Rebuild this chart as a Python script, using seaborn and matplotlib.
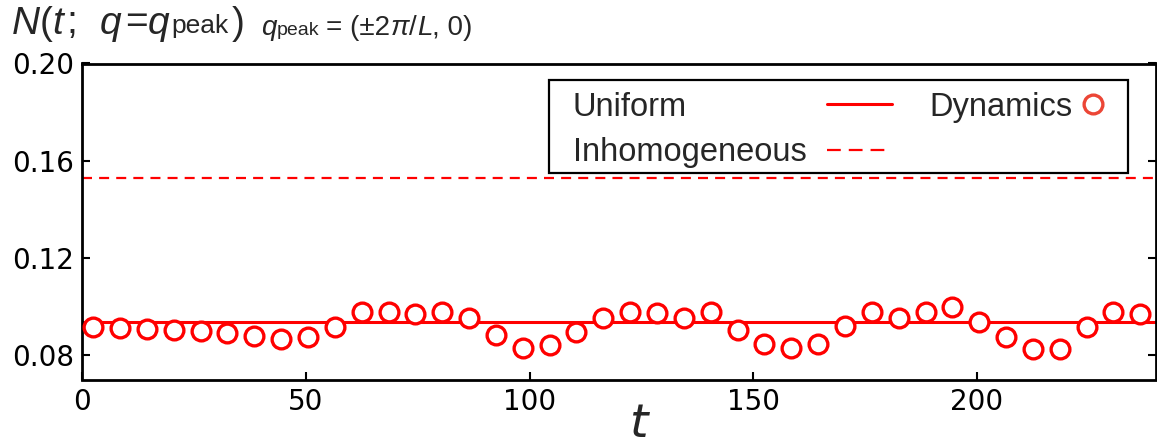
import numpy as np
import pandas as pd
import matplotlib
matplotlib.use("Agg")
import matplotlib.pyplot as plt
import seaborn as sns
from matplotlib.path import Path
from matplotlib.legend_handler import HandlerLine2D
from matplotlib.ticker import FormatStrFormatter

# ---------------- data ----------------
t_values = [2.5, 8.5, 14.5, 20.5, 26.5, 32.5, 38.5, 44.5, 50.5, 56.5,
            62.5, 68.5, 74.5, 80.5, 86.5, 92.5, 98.5, 104.5, 110.5, 116.5,
            122.5, 128.5, 134.5, 140.5, 146.5, 152.5, 158.5, 164.5, 170.5, 176.5,
            182.5, 188.5, 194.5, 200.5, 206.5, 212.5, 218.5, 224.5, 230.5, 236.5]
dynamics_values = [0.0917, 0.0913, 0.0908, 0.0903, 0.0899, 0.0892, 0.0880, 0.0865, 0.0873, 0.0917,
                   0.0976, 0.0976, 0.0968, 0.0979, 0.0955, 0.0882, 0.0828, 0.0841, 0.0896, 0.0951,
                   0.0979, 0.0972, 0.0954, 0.0979, 0.0903, 0.0845, 0.0828, 0.0848, 0.0920, 0.0979,
                   0.0955, 0.0976, 0.0999, 0.0937, 0.0873, 0.0825, 0.0825, 0.0917, 0.0979, 0.0969]
uniform_level = 0.0937
inhomogeneous_level = 0.1527
series_labels = ["Uniform", "Inhomogeneous", "Dynamics"]
x_ticks = [0, 50, 100, 150, 200]
y_ticks = [0.08, 0.12, 0.16, 0.20]

# ---------------- style ----------------
W, H, DPI = 1157, 446, 100
sns.set_theme(style="white")
plt.rcParams["font.family"] = ["DejaVu Sans"]
plt.rcParams["mathtext.fontset"] = "dejavusans"

RED = "#ff0000"
LEG_RED = "#ec4636"
MS, MEW = 13.5, 2.4

fig, ax = plt.subplots(figsize=(W / DPI, H / DPI), dpi=DPI)
fig.subplots_adjust(left=82 / W, right=1156 / W, bottom=1 - 379.5 / H, top=1 - 63.5 / H)

u_line = ax.axhline(uniform_level, color=RED, lw=2.2, zorder=2)
i_line = ax.axhline(inhomogeneous_level, color=RED, lw=1.6, ls=(0, (4.5, 3.2)), zorder=2)

df = pd.DataFrame({"t": t_values, "N": dynamics_values})
sns.lineplot(data=df, x="t", y="N", ax=ax, color=RED, marker="o", linestyle="",
             markersize=MS, mfc="white", mec=RED, mew=MEW, zorder=3)
d_line = ax.lines[-1]

ax.set_xlim(0, 240)
ax.set_ylim(0.07, 0.20)
ax.set_xticks(x_ticks)
ax.set_yticks(y_ticks)
ax.yaxis.set_major_formatter(FormatStrFormatter("%.2f"))
ax.set_ylabel("")
ax.set_xlabel("$t$", fontsize=34)
ax.xaxis.set_label_coords(0.52, -0.072)
ax.tick_params(axis="both", direction="in", length=6, width=1.5, labelsize=20,
               pad=6, colors="black", right=True, left=True, bottom=True, top=False)
for sp in ax.spines.values():
    sp.set_visible(True)
    sp.set_color("black")
    sp.set_linewidth(2)


# ---------------- legend ----------------
class RightMarker(HandlerLine2D):
    def get_xdata(self, legend, xdescent, ydescent, width, height, fontsize):
        xm = -xdescent + width - 0.5 * (MS + MEW)
        return [xm - 1, xm + 1], [xm]


FS = 23.5
HL, HTP = 2.0, 0.62
fs_px = FS * DPI / 72
EXTRA = 0.5   # extra horizontal frame padding (in font sizes)
TOP_X = 4.5 / fs_px   # extra frame padding on top
BOT_X = -3.0 / fs_px  # less frame padding at the bottom

leg = ax.legend([u_line, i_line, d_line], series_labels, ncol=2, markerfirst=False,
                prop={"family": "Liberation Sans", "size": FS},
                handlelength=HL, handletextpad=HTP, columnspacing=1.13,
                labelspacing=0.45, borderpad=0.22, frameon=True, fancybox=False,
                framealpha=1, edgecolor="black", loc="upper right",
                bbox_to_anchor=((1128 - EXTRA * fs_px) / W, 1 - (80 + 4.5) / H),
                bbox_transform=fig.transFigure, borderaxespad=0,
                handler_map={d_line: RightMarker(numpoints=1)})
frame = leg.get_frame()
frame.set_linewidth(1.6)


def wide_box(x0, y0, width, height, mutation_size):
    px = EXTRA * mutation_size
    top = y0 + height + TOP_X * mutation_size
    bot = y0 - BOT_X * mutation_size
    return Path([(x0 - px, bot), (x0 + width + px, bot), (x0 + width + px, top),
                 (x0 - px, top), (x0 - px, bot)], closed=True)


frame.set_boxstyle(wide_box)
leg.legend_handles[1].set_dashes([6.2, 3.6])
leg.legend_handles[2].set_markeredgecolor(LEG_RED)

# ---------------- title (text pieces on a common baseline) ----------------
def put(xpx, ybase, s, size, italic=False):
    return fig.text(xpx / W, 1 - ybase / H, s, fontsize=size, family="Liberation Sans",
                    style="italic" if italic else "normal", ha="left", va="baseline")


B1 = 33.5
group1 = [put(11.5, B1, "N", 28, True), put(38, B1, "(", 28), put(51, B1, "t", 28, True),
          put(66, B1, ";", 28), put(100, B1, "q", 28, True), put(125, B1, "=", 28),
          put(147, B1, "q", 28, True), put(171, B1, "peak", 19), put(231.5, B1, ")", 28)]
B2 = 35
group2 = [put(261, B2, "q", 20, True), put(277, B2, "peak", 14), put(326.5, B2, "= (±2", 20),
          put(388, B2, "π", 20, True), put(402, B2, "/", 20), put(411, B2, "L", 20, True),
          put(426, B2, ", 0)", 20)]

fig.canvas.draw()
renderer = fig.canvas.get_renderer()

# keep title pieces from overlapping
for group in (group1, group2):
    prev_right = None
    for txt in group:
        bb = txt.get_window_extent(renderer)
        if prev_right is not None and bb.x0 < prev_right:
            shift = prev_right - bb.x0
            txt.set_x(txt.get_position()[0] + shift / W)
            bb = txt.get_window_extent(renderer)
        prev_right = bb.x1

# legend: labels left-aligned in column 1, compact marker in column 2
w_pt = [t.get_window_extent(renderer).width * 72 / DPI for t in leg.get_texts()]
cols = leg._legend_handle_box.get_children()
col1_items = cols[0].get_children()
col1_items[0].sep = HTP * FS + (w_pt[1] - w_pt[0])
dyn_item = cols[1].get_children()[0]
dyn_item.sep = 7.5 - HL * FS + (MS + MEW)

fig.savefig("out.png", dpi=DPI)
